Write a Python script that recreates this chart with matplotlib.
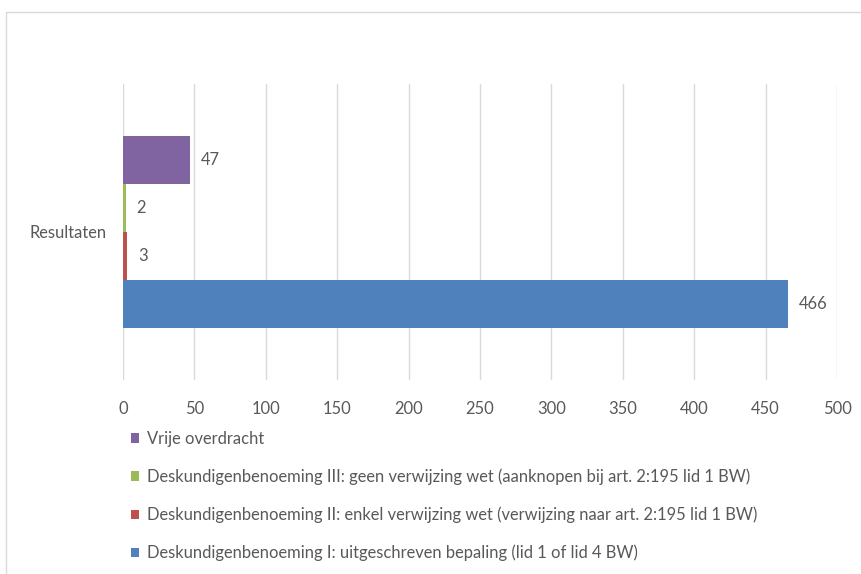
import matplotlib.pyplot as plt
from matplotlib.patches import Rectangle

# data
category = 'Resultaten'
series = [
    'Deskundigenbenoeming I: uitgeschreven bepaling (lid 1 of lid 4 BW)',
    'Deskundigenbenoeming II: enkel verwijzing wet (verwijzing naar art. 2:195 lid 1 BW)',
    'Deskundigenbenoeming III: geen verwijzing wet (aanknopen bij art. 2:195 lid 1 BW)',
    'Vrije overdracht',
]
values = [466, 3, 2, 47]
colors = ['#4F81BD', '#C0504D', '#9BBB59', '#8064A2']
xticks = [0, 50, 100, 150, 200, 250, 300, 350, 400, 450, 500]

plt.rcParams['font.family'] = ['Lato', 'DejaVu Sans']
txt = '#595959'
fs = 11.9

fig = plt.figure(figsize=(8.61, 5.74), dpi=100)
# chart border (cropped on the right and bottom)
fig.patches.append(Rectangle((6 / 861, -0.1), 2, 1 - 12 / 574 + 0.1,
                             transform=fig.transFigure, fill=False,
                             edgecolor='#D9D9D9', linewidth=1))

ax = fig.add_axes([123 / 861, 1 - 380 / 574, 714 / 861, 296 / 574])

h = 0.162
offsets = [-0.243, -0.081, 0.081, 0.243]
bars = []
for name, v, c, off in zip(series, values, colors, offsets):
    b = ax.barh(off, v, height=h, color=c, label=name, zorder=3)
    bars.append(b)
    ax.text(v + 7.5, off, str(v), va='center', ha='left', fontsize=fs, color=txt)

ax.set_xlim(0, 500)
ax.set_ylim(-0.5, 0.5)
ax.set_xticks(xticks)
ax.set_yticks([0])
ax.set_yticklabels([category])
ax.tick_params(axis='both', length=0, labelsize=fs, labelcolor=txt)
ax.tick_params(axis='x', pad=15)
ax.tick_params(axis='y', pad=12)
ax.grid(axis='x', color='#D9D9D9', linewidth=1, zorder=0)
for s in ax.spines.values():
    s.set_visible(False)

handles = bars[::-1]
labels = series[::-1]
fig.legend(handles, labels, loc='upper left', bbox_to_anchor=(131 / 861, 1 - 431 / 574),
           frameon=False, fontsize=fs, labelcolor=txt, handlelength=0.5,
           handleheight=0.5, handletextpad=0.45, labelspacing=1.3, borderpad=0,
           borderaxespad=0)

fig.savefig('out.png', dpi=100)
